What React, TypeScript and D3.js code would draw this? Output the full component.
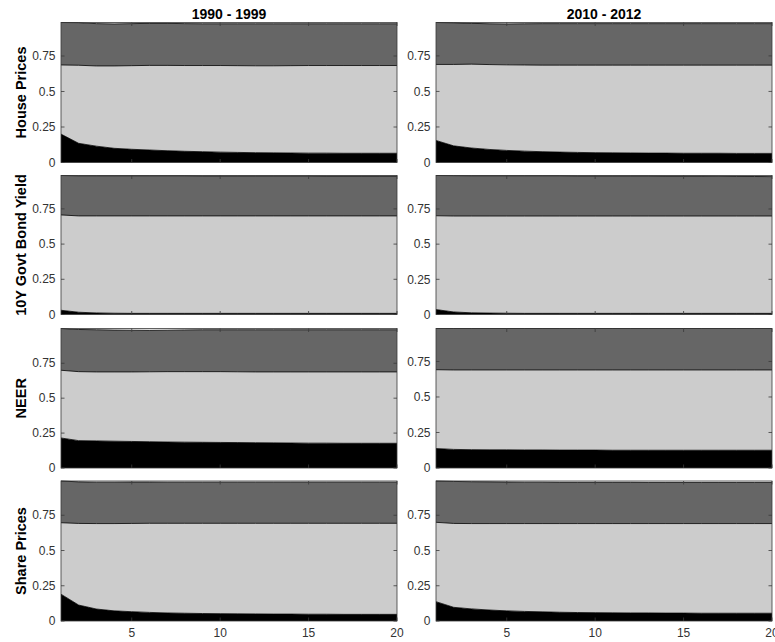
import React from "react";
import * as d3 from "d3";

// ---------- DATA ----------
const horizons = d3.range(1, 21);
const columnTitles = ["1990 - 1999", "2010 - 2012"];
const rowLabels = ["House Prices", "10Y Govt Bond Yield", "NEER", "Share Prices"];
const yTickValues = [0, 0.25, 0.5, 0.75];
const yTickLabels = ["0", "0.25", "0.5", "0.75"];
const xTickValues = [5, 10, 15, 20];

// layer shares: bottom (black), middle (light grey), top (dark grey)
const hp1990Bottom = [0.20, 0.135, 0.115, 0.10, 0.093, 0.088, 0.083, 0.079, 0.076, 0.073, 0.071, 0.069, 0.068, 0.067, 0.066, 0.066, 0.065, 0.065, 0.065, 0.065];
const hp1990Middle = [0.487, 0.55, 0.565, 0.58, 0.589, 0.596, 0.601, 0.604, 0.607, 0.61, 0.611, 0.612, 0.613, 0.615, 0.617, 0.617, 0.618, 0.618, 0.618, 0.618];
const hp1990Top = [0.299, 0.30, 0.298, 0.296, 0.296, 0.296, 0.296, 0.295, 0.294, 0.294, 0.295, 0.296, 0.296, 0.295, 0.294, 0.294, 0.294, 0.294, 0.294, 0.294];

const hp2010Bottom = [0.155, 0.117, 0.102, 0.092, 0.085, 0.080, 0.076, 0.073, 0.071, 0.069, 0.068, 0.067, 0.066, 0.066, 0.065, 0.065, 0.065, 0.064, 0.064, 0.064];
const hp2010Middle = [0.535, 0.573, 0.590, 0.597, 0.602, 0.606, 0.609, 0.612, 0.614, 0.616, 0.617, 0.618, 0.619, 0.619, 0.620, 0.620, 0.620, 0.621, 0.621, 0.621];
const hp2010Top = [0.295, 0.293, 0.287, 0.287, 0.288, 0.290, 0.292, 0.292, 0.292, 0.292, 0.292, 0.292, 0.292, 0.292, 0.292, 0.292, 0.292, 0.292, 0.292, 0.292];

const bond1990Bottom = [0.030, 0.016, 0.011, 0.009, 0.008, 0.008, 0.008, 0.008, 0.008, 0.008, 0.008, 0.008, 0.008, 0.008, 0.008, 0.008, 0.008, 0.008, 0.008, 0.008];
const bond1990Middle = [0.677, 0.684, 0.689, 0.691, 0.692, 0.692, 0.692, 0.692, 0.692, 0.692, 0.692, 0.692, 0.692, 0.692, 0.692, 0.692, 0.692, 0.692, 0.692, 0.692];
const bond1990Top = [0.280, 0.285, 0.285, 0.285, 0.285, 0.285, 0.285, 0.285, 0.284, 0.284, 0.284, 0.284, 0.284, 0.284, 0.284, 0.283, 0.283, 0.283, 0.283, 0.283];

const bond2010Bottom = [0.035, 0.018, 0.012, 0.010, 0.009, 0.008, 0.008, 0.008, 0.008, 0.008, 0.008, 0.008, 0.008, 0.008, 0.008, 0.008, 0.008, 0.008, 0.008, 0.008];
const bond2010Middle = [0.667, 0.682, 0.688, 0.690, 0.691, 0.692, 0.692, 0.692, 0.692, 0.692, 0.692, 0.692, 0.692, 0.692, 0.692, 0.692, 0.692, 0.692, 0.692, 0.692];
const bond2010Top = [0.286, 0.287, 0.286, 0.286, 0.286, 0.286, 0.286, 0.286, 0.285, 0.285, 0.285, 0.285, 0.285, 0.284, 0.284, 0.284, 0.283, 0.282, 0.281, 0.280];

const neer1990Bottom = [0.215, 0.196, 0.194, 0.192, 0.190, 0.188, 0.186, 0.185, 0.184, 0.183, 0.182, 0.181, 0.180, 0.179, 0.178, 0.178, 0.177, 0.177, 0.177, 0.177];
const neer1990Middle = [0.485, 0.494, 0.494, 0.496, 0.498, 0.501, 0.504, 0.505, 0.506, 0.507, 0.507, 0.507, 0.508, 0.509, 0.510, 0.510, 0.511, 0.511, 0.511, 0.511];
const neer1990Top = [0.299, 0.302, 0.302, 0.300, 0.299, 0.297, 0.297, 0.299, 0.300, 0.300, 0.301, 0.302, 0.302, 0.302, 0.302, 0.302, 0.302, 0.302, 0.302, 0.302];

const neer2010Bottom = [0.137, 0.131, 0.129, 0.128, 0.128, 0.127, 0.127, 0.126, 0.126, 0.126, 0.125, 0.125, 0.125, 0.125, 0.125, 0.125, 0.125, 0.125, 0.125, 0.125];
const neer2010Middle = [0.555, 0.559, 0.561, 0.562, 0.562, 0.563, 0.563, 0.564, 0.564, 0.564, 0.565, 0.565, 0.565, 0.565, 0.565, 0.565, 0.565, 0.565, 0.565, 0.565];
const neer2010Top = [0.290, 0.292, 0.292, 0.292, 0.292, 0.292, 0.292, 0.292, 0.292, 0.292, 0.292, 0.292, 0.292, 0.292, 0.292, 0.292, 0.292, 0.292, 0.292, 0.292];

const share1990Bottom = [0.19, 0.113, 0.085, 0.072, 0.066, 0.061, 0.057, 0.055, 0.053, 0.052, 0.051, 0.050, 0.049, 0.049, 0.048, 0.048, 0.047, 0.047, 0.047, 0.047];
const share1990Middle = [0.507, 0.579, 0.606, 0.619, 0.626, 0.632, 0.636, 0.638, 0.640, 0.641, 0.642, 0.643, 0.644, 0.644, 0.645, 0.645, 0.646, 0.646, 0.646, 0.646];
const share1990Top = [0.296, 0.295, 0.294, 0.294, 0.294, 0.293, 0.292, 0.292, 0.292, 0.292, 0.292, 0.292, 0.292, 0.292, 0.292, 0.292, 0.292, 0.292, 0.292, 0.292];

const share2010Bottom = [0.137, 0.097, 0.086, 0.078, 0.072, 0.068, 0.065, 0.062, 0.060, 0.059, 0.058, 0.057, 0.057, 0.056, 0.056, 0.055, 0.055, 0.055, 0.055, 0.055];
const share2010Middle = [0.563, 0.595, 0.605, 0.613, 0.619, 0.623, 0.626, 0.629, 0.631, 0.632, 0.633, 0.634, 0.634, 0.635, 0.635, 0.636, 0.636, 0.636, 0.636, 0.636];
const share2010Top = [0.293, 0.298, 0.297, 0.296, 0.295, 0.294, 0.294, 0.293, 0.293, 0.293, 0.293, 0.293, 0.292, 0.292, 0.292, 0.292, 0.292, 0.292, 0.292, 0.292];

const panels = [
  [[hp1990Bottom, hp1990Middle, hp1990Top], [hp2010Bottom, hp2010Middle, hp2010Top]],
  [[bond1990Bottom, bond1990Middle, bond1990Top], [bond2010Bottom, bond2010Middle, bond2010Top]],
  [[neer1990Bottom, neer1990Middle, neer1990Top], [neer2010Bottom, neer2010Middle, neer2010Top]],
  [[share1990Bottom, share1990Middle, share1990Top], [share2010Bottom, share2010Middle, share2010Top]],
];
const layerColors = ["#000000", "#cccccc", "#666666"];

// ---------- LAYOUT ----------
const W = 775;
const H = 642;
const colX = [[61, 397], [436, 772]];
const rowY = [[22.5, 162.5], [175.5, 314.5], [328.5, 468], [481, 621]];
const FONT = "Helvetica, 'Liberation Sans', Arial, sans-serif";

function Panel({ layers, cx, ry, showX }: any) {
  const keys = ["a", "b", "c"];
  const table = horizons.map((h, i) => ({ h, a: layers[0][i], b: layers[1][i], c: layers[2][i] }));
  const stacked = d3.stack<any>().keys(keys)(table);
  const maxTotal = d3.max(table, (d: any) => d.a + d.b + d.c) as number;
  const x = d3.scaleLinear().domain([1, 20]).range(cx);
  const y = d3.scaleLinear().domain([0, maxTotal]).range([ry[1], ry[0]]);
  const area = d3
    .area<any>()
    .x((d: any) => x(d.data.h))
    .y0((d: any) => y(d[0]))
    .y1((d: any) => y(d[1]));
  const line = d3
    .line<any>()
    .x((d: any) => x(d.data.h))
    .y((d: any) => y(d[1]));
  const tickLen = 3.5;
  const axisColor = "#3a3a3a";
  return (
    <g>
      {stacked.map((s, i) => (
        <path key={"a" + i} d={area(s) as string} fill={layerColors[i]} stroke="none" />
      ))}
      {stacked.map((s, i) => (
        <path key={"l" + i} d={line(s) as string} fill="none" stroke="#000" strokeWidth={0.8} />
      ))}
      <rect
        x={cx[0]}
        y={ry[0]}
        width={cx[1] - cx[0]}
        height={ry[1] - ry[0]}
        fill="none"
        stroke={axisColor}
        strokeWidth={0.8}
      />
      {yTickValues.map((v, i) => (
        <g key={"yt" + i}>
          <line x1={cx[0]} x2={cx[0] + tickLen} y1={y(v)} y2={y(v)} stroke={axisColor} strokeWidth={0.8} />
          <line x1={cx[1]} x2={cx[1] - tickLen} y1={y(v)} y2={y(v)} stroke={axisColor} strokeWidth={0.8} />
          <text
            x={cx[0] - 5.5}
            y={y(v)}
            dy="0.35em"
            textAnchor="end"
            fontSize={12}
            fontFamily={FONT}
            fill="#333"
          >
            {yTickLabels[i]}
          </text>
        </g>
      ))}
      {xTickValues.map((v, i) => (
        <g key={"xt" + i}>
          <line x1={x(v)} x2={x(v)} y1={ry[1]} y2={ry[1] - tickLen} stroke={axisColor} strokeWidth={0.8} />
          <line x1={x(v)} x2={x(v)} y1={ry[0]} y2={ry[0] + tickLen} stroke={axisColor} strokeWidth={0.8} />
          {showX && (
            <text
              x={x(v)}
              y={ry[1] + 12}
              dy="0.35em"
              textAnchor="middle"
              fontSize={12}
              fontFamily={FONT}
              fill="#333"
            >
              {v}
            </text>
          )}
        </g>
      ))}
    </g>
  );
}

export default function App() {
  return (
    <svg
      width={W}
      height={H}
      style={{ position: "absolute", left: 0, top: 0, display: "block", background: "#fff" }}
    >
      <rect width={W} height={H} fill="#fff" />
      {columnTitles.map((t, c) => (
        <text
          key={"t" + c}
          x={(colX[c][0] + colX[c][1]) / 2}
          y={14}
          dy="0.35em"
          textAnchor="middle"
          fontSize={14}
          fontWeight="bold"
          fontFamily={FONT}
          fill="#000"
        >
          {t}
        </text>
      ))}
      {rowLabels.map((t, r) => (
        <text
          key={"r" + r}
          transform={`translate(21, ${(rowY[r][0] + rowY[r][1]) / 2}) rotate(-90)`}
          dy="0.35em"
          textAnchor="middle"
          fontSize={14.5}
          fontWeight="bold"
          fontFamily={FONT}
          fill="#000"
        >
          {t}
        </text>
      ))}
      {panels.map((row, r) =>
        row.map((layers, c) => (
          <Panel key={r + "-" + c} layers={layers} cx={colX[c]} ry={rowY[r]} showX={r === 3} />
        ))
      )}
    </svg>
  );
}
